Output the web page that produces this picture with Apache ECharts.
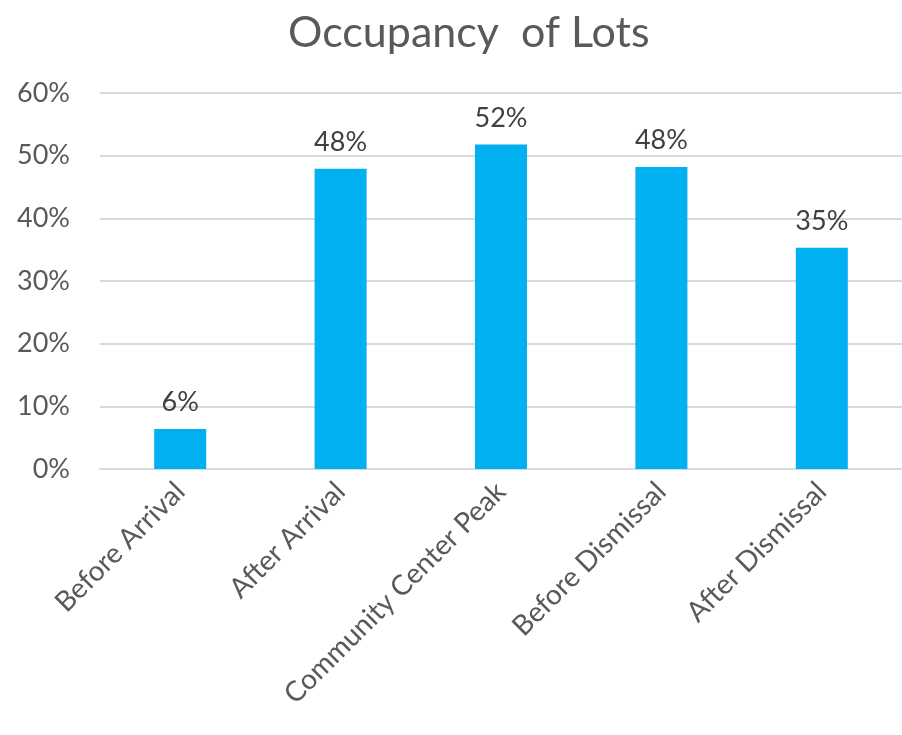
<!DOCTYPE html>
<html>
<head>
<meta charset="utf-8">
<script src="https://cdn.jsdelivr.net/npm/echarts@6/dist/echarts.min.js"></script>
<style>
  html, body { margin: 0; padding: 0; background: #fff; }
  #chart { width: 902px; height: 735px; }
</style>
</head>
<body>
<div id="chart"></div>
<script>
// values (percent)
const categories = ["Before Arrival", "After Arrival", "Community Center Peak", "Before Dismissal", "After Dismissal"];
const occupancy = [6.4, 47.9, 51.8, 48.2, 35.3];

const textColor = "#595959";
const font = "Lato";

const chart = echarts.init(document.getElementById("chart"));
const option = {
  animation: false,
  title: {
    text: "Occupancy  of Lots",
    left: 283,
    top: 7,
    textStyle: {
      fontFamily: font,
      fontSize: 43,
      fontWeight: "normal",
      color: textColor
    }
  },
  grid: {
    left: 100,
    right: -1,
    top: 93,
    bottom: 266,
    containLabel: false
  },
  xAxis: {
    type: "category",
    data: categories,
    axisLine: { lineStyle: { color: "#d9d9d9", width: 2 } },
    axisTick: { show: false },
    axisLabel: {
      rotate: 45,
      interval: 0,
      margin: 18,
      fontFamily: font,
      fontSize: 28,
      color: textColor
    }
  },
  yAxis: {
    type: "value",
    min: 0,
    max: 60,
    interval: 10,
    axisLine: { show: false },
    axisTick: { show: false },
    splitLine: { lineStyle: { color: "#d9d9d9", width: 2 } },
    axisLabel: {
      margin: 30,
      fontFamily: font,
      fontSize: 27,
      color: textColor,
      formatter: v => v + "%"
    }
  },
  series: [
    {
      type: "bar",
      data: occupancy,
      barWidth: 52,
      itemStyle: { color: "#00B0F0" },
      label: {
        show: true,
        position: "top",
        distance: 13,
        fontFamily: font,
        fontSize: 27,
        color: "#404040",
        formatter: p => Math.round(p.value) + "%"
      }
    }
  ]
};
chart.setOption(option);
</script>
</body>
</html>
